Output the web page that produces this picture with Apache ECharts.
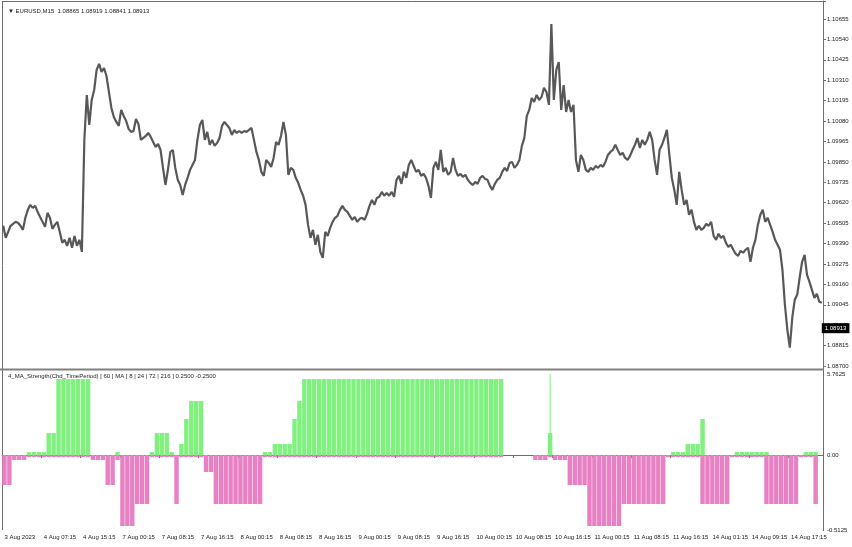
<!DOCTYPE html>
<html><head><meta charset="utf-8">
<script src="https://cdn.jsdelivr.net/npm/echarts@6/dist/echarts.min.js"></script>
<style>html,body{margin:0;padding:0;background:#fff}#c{width:852px;height:547px}</style>
</head><body><div id="c"></div>
<script>
const symbolTitle = '\u25BC EURUSD,M15  1.08865 1.08919 1.08841 1.08913';
const indicatorTitle = '4_MA_Strength(Chd_TimePeriod) [ 60 ] MA [ 8 | 24 | 72 | 216 ] 0.2500 -0.2500';
const timeLabels = ['3 Aug 2023','4 Aug 07:15','4 Aug 15:15','7 Aug 00:15','7 Aug 08:15','7 Aug 16:15','8 Aug 00:15','8 Aug 08:15','8 Aug 16:15','9 Aug 00:15','9 Aug 08:15','9 Aug 16:15','10 Aug 00:15','10 Aug 08:15','10 Aug 16:15','11 Aug 00:15','11 Aug 08:15','11 Aug 16:15','14 Aug 01:15','14 Aug 09:15','14 Aug 17:15'];
const priceBase = 1.08700;
const priceStep = 0.00115;
const lastPrice = 1.08913;
const prices = [
1.09490,1.09422,1.09456,1.09490,1.09501,1.09512,1.09507,1.09490,1.09467,1.09535,
1.09580,1.09608,1.09591,1.09602,1.09568,1.09540,1.09512,1.09484,1.09563,1.09535,
1.09473,1.09495,1.09512,1.09456,1.09394,1.09411,1.09377,1.09422,1.09366,1.09433,
1.09377,1.09411,1.09343,1.09974,1.10227,1.10058,1.10199,1.10255,1.10368,1.10402,
1.10357,1.10379,1.10334,1.10244,1.10154,1.10103,1.10075,1.10053,1.10143,1.10109,
1.10081,1.10036,1.10019,1.10024,1.10092,1.10064,1.09974,1.09985,1.09996,1.10013,
1.09991,1.09962,1.09934,1.09951,1.09917,1.09816,1.09720,1.09805,1.09906,1.09917,
1.09816,1.09749,1.09720,1.09664,1.09720,1.09760,1.09805,1.09833,1.09861,1.09974,
1.10058,1.10086,1.09974,1.10019,1.09946,1.09974,1.09940,1.09957,1.09985,1.10053,
1.10075,1.10058,1.10041,1.10002,1.10030,1.10013,1.10024,1.10013,1.10024,1.10019,
1.10030,1.10041,1.09974,1.09906,1.09861,1.09794,1.09771,1.09861,1.09844,1.09822,
1.09872,1.09962,1.09946,1.09996,1.10075,1.10002,1.09777,1.09816,1.09805,1.09760,
1.09732,1.09692,1.09659,1.09608,1.09495,1.09422,1.09467,1.09383,1.09439,1.09343,
1.09309,1.09456,1.09433,1.09478,1.09512,1.09535,1.09546,1.09580,1.09602,1.09580,
1.09568,1.09546,1.09523,1.09540,1.09512,1.09529,1.09535,1.09523,1.09557,1.09602,
1.09636,1.09608,1.09647,1.09653,1.09681,1.09659,1.09675,1.09659,1.09681,1.09653,
1.09749,1.09771,1.09726,1.09794,1.09760,1.09833,1.09861,1.09827,1.09794,1.09805,
1.09771,1.09782,1.09760,1.09715,1.09647,1.09816,1.09850,1.09805,1.09917,1.09794,
1.09816,1.09777,1.09794,1.09872,1.09805,1.09771,1.09782,1.09766,1.09777,1.09749,
1.09732,1.09720,1.09737,1.09726,1.09760,1.09771,1.09754,1.09749,1.09715,1.09692,
1.09726,1.09749,1.09760,1.09794,1.09816,1.09799,1.09844,1.09850,1.09816,1.09833,
1.09861,1.09940,1.09985,1.10109,1.10143,1.10210,1.10188,1.10227,1.10199,1.10216,
1.10267,1.10244,1.10171,1.10627,1.10199,1.10368,1.10413,1.10143,1.10283,1.10131,
1.10199,1.10131,1.10171,1.09861,1.09794,1.09889,1.09861,1.09805,1.09794,1.09816,
1.09805,1.09827,1.09816,1.09833,1.09822,1.09850,1.09889,1.09906,1.09917,1.09946,
1.09917,1.09889,1.09901,1.09872,1.09861,1.09884,1.09917,1.09946,1.09985,1.09929,
1.09974,1.09946,1.09974,1.10019,1.09974,1.09861,1.09777,1.09917,1.09946,1.09985,
1.10030,1.09889,1.09760,1.09692,1.09608,1.09794,1.09692,1.09608,1.09636,1.09552,
1.09580,1.09512,1.09467,1.09490,1.09467,1.09478,1.09501,1.09490,1.09512,1.09433,
1.09411,1.09445,1.09422,1.09433,1.09394,1.09371,1.09383,1.09355,1.09332,1.09321,
1.09349,1.09338,1.09355,1.09366,1.09287,1.09366,1.09411,1.09495,1.09552,1.09580,
1.09512,1.09535,1.09495,1.09456,1.09411,1.09383,1.09355,1.09242,1.09045,1.08904,
1.08803,1.08972,1.09073,1.09101,1.09197,1.09287,1.09326,1.09214,1.09174,1.09129,
1.09084,1.09107,1.09062,1.09056
];
const strengthUp = [
null,null,null,null,null,0.02,0.02,0.02,0.02,0.15,
0.15,0.519,0.519,0.519,0.519,0.519,0.519,0.519,null,null,
null,null,null,0.02,null,null,null,null,null,null,
0.02,0.15,0.15,0.15,0.02,null,0.075,0.246,0.369,0.369,
0.369,null,null,null,null,null,null,null,null,null,
null,null,null,0.02,0.02,0.075,0.075,0.075,0.075,0.246,
0.369,0.519,0.519,0.519,0.519,0.519,0.519,0.519,0.519,0.519,
0.519,0.519,0.519,0.519,0.519,0.519,0.519,0.519,0.519,0.519,
0.519,0.519,0.519,0.519,0.519,0.519,0.519,0.519,0.519,0.519,
0.519,0.519,0.519,0.519,0.519,0.519,0.519,0.519,0.519,0.519,
0.519,0.519,null,null,null,null,null,null,null,null,
null,0.15,null,null,null,null,null,null,null,null,
null,null,null,null,null,null,null,null,null,null,
null,null,null,null,null,null,0.02,0.02,0.02,0.075,
0.075,0.075,0.246,null,null,null,null,null,null,0.02,
0.02,0.02,0.02,0.02,0.02,0.02,null,null,null,null,
null,null,null,0.02,0.02,0.02,null
];
const strengthDown = [
-0.205,-0.205,-0.034,-0.034,-0.034,-0.015,-0.015,-0.015,-0.015,-0.015,
-0.015,-0.015,-0.015,-0.015,-0.015,-0.015,-0.015,-0.015,-0.034,-0.034,
-0.034,-0.205,-0.205,-0.034,-0.485,-0.485,-0.485,-0.335,-0.335,-0.335,
-0.015,-0.015,-0.015,-0.015,-0.015,-0.335,-0.015,-0.015,-0.015,-0.015,
-0.015,-0.116,-0.116,-0.335,-0.335,-0.335,-0.335,-0.335,-0.335,-0.335,
-0.335,-0.335,-0.335,-0.015,-0.015,-0.015,-0.015,-0.015,-0.015,-0.015,
-0.015,-0.015,-0.015,-0.015,-0.015,-0.015,-0.015,-0.015,-0.015,-0.015,
-0.015,-0.015,-0.015,-0.015,-0.015,-0.015,-0.015,-0.015,-0.015,-0.015,
-0.015,-0.015,-0.015,-0.015,-0.015,-0.015,-0.015,-0.015,-0.015,-0.015,
-0.015,-0.015,-0.015,-0.015,-0.015,-0.015,-0.015,-0.015,-0.015,-0.015,
-0.015,-0.015,null,null,null,null,null,null,-0.034,-0.034,
-0.034,-0.015,-0.034,-0.034,-0.034,-0.205,-0.205,-0.205,-0.205,-0.485,
-0.485,-0.485,-0.485,-0.485,-0.485,-0.485,-0.335,-0.335,-0.335,-0.335,
-0.335,-0.335,-0.335,-0.335,-0.335,-0.015,-0.015,-0.015,-0.015,-0.015,
-0.015,-0.015,-0.335,-0.335,-0.335,-0.335,-0.335,-0.335,-0.015,-0.015,
-0.015,-0.015,-0.015,-0.015,-0.015,-0.335,-0.335,-0.335,-0.335,-0.335,
-0.335,-0.335,-0.015,-0.015,-0.015,-0.335
];
const spikeIndex = 111;
const spikeValue = 0.56;
const indTickValues = [-0.5125, 0, 0.5535];
const indTickLabels = ['-0.5125', '0.00', '5.7625'];

const FONT = 'Liberation Sans, DejaVu Sans, sans-serif';
const frame = '#6e6e6e';
const textCol = '#222';
const priceCats = prices.map((_, i) => String(i));
const hourCats = strengthUp.map((_, i) => String(i));
const spikeData = strengthUp.map((_, i) => (i === spikeIndex ? spikeValue : null));
const lastOffset = +(lastPrice - priceBase).toFixed(6);

const chart = echarts.init(document.getElementById('c'), null, {renderer: 'canvas'});
chart.setOption({
  animation: false,
  backgroundColor: '#fff',
  textStyle: {fontFamily: FONT},
  title: [
    {text: symbolTitle, left: 3, top: 3, textStyle: {fontSize: 6, fontWeight: 'normal', color: textCol, fontFamily: FONT}},
    {text: indicatorTitle, left: 3, top: 371, padding: [2, 5], textStyle: {fontSize: 6, fontWeight: 'normal', color: textCol, fontFamily: FONT}}
  ],
  grid: [
    {left: 2, right: 29, top: 1, height: 365},
    {left: 2, right: 29, top: 374, height: 156}
  ],
  xAxis: [
    {type: 'category', gridIndex: 0, data: priceCats, boundaryGap: true, show: false},
    {type: 'category', gridIndex: 1, data: hourCats, boundaryGap: true,
     axisLine: {show: true, lineStyle: {color: frame, width: 1}},
     axisTick: {show: true, interval: 7, length: 3, lineStyle: {color: frame}},
     axisLabel: {interval: 7, fontSize: 6, color: textCol, align: 'left', margin: 4, fontFamily: FONT,
       formatter: (v, idx) => (idx % 8 === 0 && timeLabels[idx / 8] !== undefined) ? timeLabels[idx / 8] : ''},
     splitLine: {show: false}},
    {type: 'category', gridIndex: 1, data: hourCats, boundaryGap: true, show: false}
  ],
  yAxis: [
    {type: 'value', gridIndex: 0, position: 'right', min: 0, max: 365 / 17749, interval: priceStep,
     axisLine: {show: true, lineStyle: {color: frame}},
     axisTick: {show: true, length: 3, lineStyle: {color: frame}},
     splitLine: {show: false},
     axisLabel: {fontSize: 6, color: textCol, margin: 4, fontFamily: FONT,
       formatter: v => {
         const k = v / priceStep;
         if (Math.abs(k - Math.round(k)) > 1e-6) return '';
         return (priceBase + v).toFixed(5);
       }}},
    {type: 'value', gridIndex: 1, position: 'right', min: indTickValues[0], max: indTickValues[2], interval: 0.5125,
     axisLine: {show: true, lineStyle: {color: frame}},
     axisTick: {show: false},
     splitLine: {show: false},
     axisLabel: {fontSize: 6, color: textCol, margin: 4, fontFamily: FONT, showMaxLabel: true, showMinLabel: true,
       formatter: v => {
         for (let i = 0; i < indTickValues.length; i++) {
           if (Math.abs(v - indTickValues[i]) < 1e-6) return indTickLabels[i];
         }
         return '';
       }}}
  ],
  graphic: [
    {type: 'line', silent: true, shape: {x1: 2, y1: 1.5, x2: 823, y2: 1.5}, style: {stroke: frame, lineWidth: 1}},
    {type: 'line', silent: true, shape: {x1: 2.5, y1: 1, x2: 2.5, y2: 530}, style: {stroke: frame, lineWidth: 1}},
    {type: 'line', silent: true, shape: {x1: 823.5, y1: 1, x2: 823.5, y2: 531}, style: {stroke: frame, lineWidth: 1}},
    {type: 'line', silent: true, shape: {x1: 0, y1: 369.5, x2: 824, y2: 369.5}, style: {stroke: '#808080', lineWidth: 2}}
  ],
  series: [
    {type: 'line', xAxisIndex: 0, yAxisIndex: 0, data: prices.map(p => +(p - priceBase).toFixed(6)),
     showSymbol: false, symbol: 'none', lineStyle: {color: '#585858', width: 2.2}, silent: true, z: 3,
     markLine: {silent: true, symbol: ['none', 'none'], z: 10, animation: false,
       lineStyle: {color: 'rgba(0,0,0,0)', width: 1, type: 'solid'},
       label: {show: true, position: 'end', distance: 0, formatter: lastPrice.toFixed(5), backgroundColor: '#000', color: '#fff',
               fontSize: 6, padding: [2, 3, 2, 3], fontFamily: FONT},
       data: [[{coord: [priceCats[0], lastOffset]}, {coord: [priceCats[priceCats.length - 1], lastOffset]}]]}},
    {type: 'bar', xAxisIndex: 1, yAxisIndex: 1, data: strengthUp, barGap: '-100%', barCategoryGap: '10%',
     itemStyle: {color: '#80f07f'}, silent: true},
    {type: 'bar', xAxisIndex: 1, yAxisIndex: 1, data: strengthDown, barGap: '-100%', barCategoryGap: '10%',
     itemStyle: {color: '#e880c4'}, silent: true},
    {type: 'bar', xAxisIndex: 2, yAxisIndex: 1, data: spikeData, barWidth: 1,
     itemStyle: {color: '#80f07f'}, silent: true}
  ]
});
</script>
</body></html>
